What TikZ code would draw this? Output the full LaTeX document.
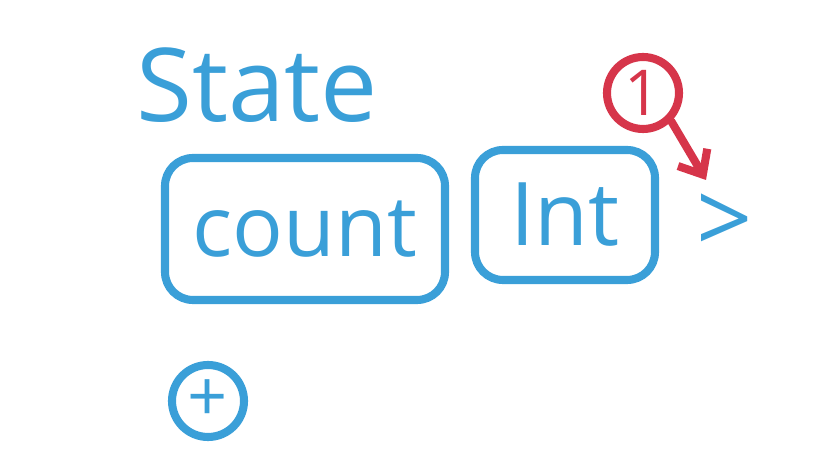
\documentclass[tikz,border=0pt]{standalone}
\usepackage{fontspec}
\setmainfont{Open Sans}
\usetikzlibrary{arrows.meta}

\definecolor{sketchblue}{HTML}{3A9FD8}
\definecolor{sketchred}{HTML}{D6354A}

\tikzstyle{ink} = [sketchblue, line width=2.3pt, line cap=round, line join=round]
\tikzstyle{field} = [ink, draw, rounded corners=0.28cm, inner sep=0pt]
\tikzstyle{ring} = [draw, circle, line width=2.3pt, inner sep=0pt]

\newcommand{\hand}[1]{\fontsize{#1}{#1}\selectfont}

\begin{document}
\begin{tikzpicture}
\useasboundingbox (0,0) rectangle (8.14,4.68);
%\draw[help lines] (0,0) grid (8.14,4.68);
%title
\node[text=sketchblue] (title) at (2.57,3.83) {\hand{29pt}State};%
%fields
\node[field, minimum width=2.8cm, minimum height=1.42cm, text=sketchblue] (count) at (3.05,2.39) {\hand{24pt}count};%
\node[field, minimum width=1.8cm, minimum height=1.3cm, text=sketchblue] (type) at (5.65,2.53) {\hand{25pt}Int};%
\node[text=sketchblue] (close) at (7.25,2.44) {\hand{28pt}>};%
%markers
\node[ring, sketchred, minimum size=0.72cm] (one) at (6.43,3.75) {\hand{18pt}1};%
\node[ring, sketchblue, minimum size=0.72cm] (add) at (2.08,0.67) {\hand{20pt}+};%
%arrow
\coordinate (tip) at (7.06,2.88);
\draw[sketchred, line width=2.3pt, line cap=round, -{Straight Barb[length=0.2cm, width=0.34cm]}] (one.south east) -- (tip);
\end{tikzpicture}
\end{document}
